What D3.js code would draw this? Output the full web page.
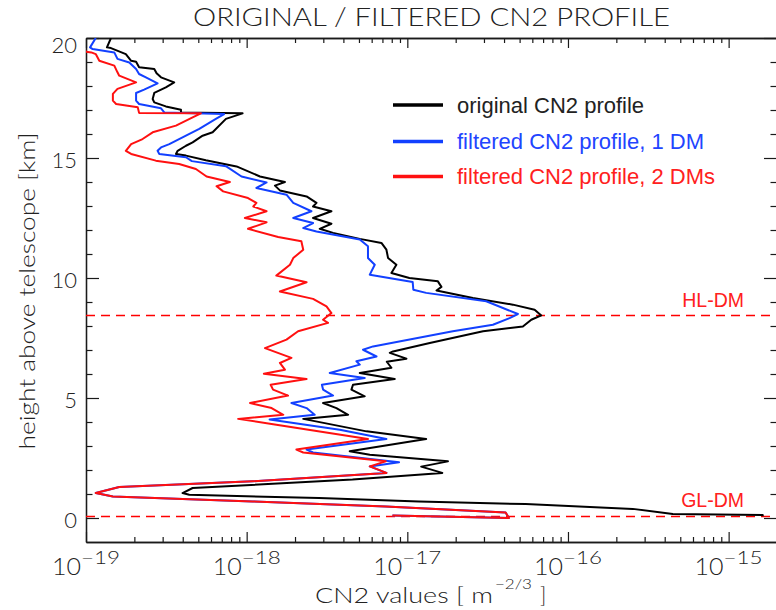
<!DOCTYPE html>
<html>
<head>
<meta charset="utf-8">
<script src="https://cdn.jsdelivr.net/npm/d3@7"></script>
<style>
  body { margin: 0; background: #fff; }
  svg { display: block; }
</style>
</head>
<body>
<svg id="chart" width="776" height="610"></svg>
<script>
// Original CN2 profile: height above telescope [km] and CN2 value [m^-2/3]
const heightOriginal = [20.0,19.61,19.58,19.33,19.05,19.01,18.78,18.71,18.53,18.36,
  18.15,17.94,17.71,17.46,17.32,17.15,17.01,16.90,16.86,16.63,
  16.07,15.93,15.65,15.51,15.30,15.17,15.10,14.91,14.65,14.23,
  14.00,13.85,13.65,13.40,13.13,12.98,12.78,12.50,12.26,12.05,
  11.88,11.63,11.46,11.18,10.83,10.55,10.21,10.00,9.86,9.63,
  9.48,9.17,8.89,8.68,8.44,8.26,7.98,7.78,7.29,6.94,
  6.88,6.64,6.51,6.26,6.04,5.79,5.55,5.35,5.07,4.79,
  4.58,4.30,4.13,3.61,3.29,2.78,2.64,2.36,2.14,1.88,
  1.60,1.25,1.04,0.97,0.83,0.69,0.58,0.38,0.17,0.12,0.07];
const cn2Original = [1.43e-19,1.35e-19,1.43e-19,1.77e-19,1.91e-19,2.05e-19,2.14e-19,2.66e-19,2.75e-19,2.93e-19,
  3.54e-19,3.14e-19,2.66e-19,2.60e-19,2.66e-19,3.14e-19,3.90e-19,3.90e-19,9.43e-19,7.43e-19,
  6.14e-19,5.32e-19,4.61e-19,4.19e-19,3.72e-19,3.63e-19,4.19e-19,5.57e-19,8.65e-19,1.21e-18,
  1.73e-18,1.50e-18,1.61e-18,2.36e-18,2.72e-18,2.59e-18,3.37e-18,2.59e-18,3.37e-18,2.85e-18,
  3.45e-18,5.06e-18,6.90e-18,7.41e-18,7.59e-18,8.55e-18,7.96e-18,1.03e-17,1.55e-17,1.63e-17,
  1.52e-17,2.56e-17,4.54e-17,6.20e-17,6.82e-17,5.91e-17,5.24e-17,2.96e-17,1.38e-17,8.15e-18,
  7.78e-18,9.87e-18,7.45e-18,7.96e-18,5.06e-18,8.35e-18,4.59e-18,4.49e-18,5.43e-18,2.99e-18,
  3.62e-18,4.28e-18,2.25e-18,5.57e-18,1.31e-17,4.38e-18,5.84e-18,1.79e-17,1.22e-17,1.65e-17,
  4.56e-18,4.61e-19,3.99e-19,4.39e-19,2.82e-18,1.18e-17,5.45e-17,2.53e-16,4.49e-16,1.63e-15,1.63e-15];

// Filtered profile, one deformable mirror
const heightFiltered1 = [20.0,19.61,19.54,19.40,19.13,18.98,18.71,18.50,18.36,18.11,
  17.85,17.71,17.39,17.25,17.07,16.90,16.83,16.63,16.21,15.93,
  15.58,15.44,15.30,15.17,15.03,14.87,14.66,14.23,13.98,13.75,
  13.47,13.13,12.78,12.50,12.29,12.08,11.94,11.60,11.32,10.83,
  10.55,10.14,9.83,9.51,9.38,9.03,8.50,8.33,8.05,7.78,
  7.15,7.01,6.73,6.53,6.39,6.04,5.83,5.55,5.35,5.10,
  4.79,4.58,4.30,4.10,3.68,3.29,2.85,2.73,2.32,
  2.15,1.88,1.53,1.29,1.04,0.90,0.69,0.48,0.23,0.00,0.10];
const cn2Filtered1 = [1.15e-19,1.06e-19,1.10e-19,1.50e-19,1.57e-19,1.86e-19,2.05e-19,2.14e-19,2.36e-19,2.79e-19,
  2.30e-19,2.05e-19,2.05e-19,2.14e-19,2.93e-19,3.07e-19,7.24e-19,6.43e-19,5.07e-19,4.19e-19,
  3.30e-19,2.93e-19,2.79e-19,2.86e-19,4.19e-19,4.56e-19,7.43e-19,9.29e-19,1.33e-18,1.15e-18,
  1.77e-18,1.95e-18,2.53e-18,1.95e-18,2.59e-18,2.25e-18,2.72e-18,5.06e-18,5.69e-18,5.69e-18,
  6.27e-18,5.84e-18,1.08e-17,1.09e-17,1.31e-17,3.10e-17,4.88e-17,4.33e-17,3.41e-17,1.92e-17,
  6.12e-18,5.30e-18,6.43e-18,4.82e-18,5.06e-18,3.29e-18,5.43e-18,2.94e-18,2.99e-18,3.45e-18,
  1.90e-18,2.36e-18,2.65e-18,1.39e-18,3.80e-18,7.41e-18,2.36e-18,2.59e-18,8.88e-18,
  5.84e-18,7.41e-18,1.09e-18,1.61e-19,1.15e-19,1.47e-19,1.09e-18,7.34e-18,4.09e-17,4.29e-17,8.08e-18];

// Filtered profile, two deformable mirrors
const heightFiltered2 = [19.93,19.43,19.40,19.33,19.05,18.85,18.57,18.43,18.15,17.88,
  17.67,17.39,17.25,17.11,16.88,16.86,16.69,16.35,16.07,15.79,
  15.58,15.30,15.17,14.89,14.75,14.54,14.23,14.00,13.82,13.61,
  13.33,13.13,12.98,12.78,12.50,12.32,12.05,11.71,11.53,11.18,
  10.83,10.55,10.10,9.82,9.44,9.13,8.82,8.54,8.26,8.13,
  7.78,7.43,7.08,6.67,6.46,6.18,6.01,5.79,5.55,5.35,
  5.10,4.79,4.58,4.30,4.13,3.89,3.29,2.85,2.73,2.36,
  2.15,1.88,1.53,1.29,1.04,0.90,0.69,0.48,0.23,0.00,0.10];
const cn2Filtered2 = [0.92e-19,1.0e-19,1.08e-19,1.15e-19,1.21e-19,1.50e-19,1.57e-19,1.61e-19,2.05e-19,1.57e-19,
  1.47e-19,1.47e-19,1.54e-19,2.10e-19,2.14e-19,5.19e-19,4.61e-19,3.63e-19,2.60e-19,2.25e-19,
  1.91e-19,1.77e-19,1.91e-19,2.72e-19,3.80e-19,4.83e-19,5.63e-19,7.86e-19,6.50e-19,7.14e-19,
  1.02e-18,1.15e-18,1.10e-18,1.33e-18,9.75e-19,1.33e-18,1.02e-18,1.57e-18,2.19e-18,2.25e-18,
  1.95e-18,1.86e-18,1.53e-18,2.36e-18,1.61e-18,2.59e-18,3.14e-18,3.37e-18,2.99e-18,3.21e-18,
  2.09e-18,1.77e-18,1.30e-18,1.90e-18,1.61e-18,1.73e-18,1.28e-18,2.36e-18,1.41e-18,1.46e-18,
  1.81e-18,1.05e-18,1.43e-18,1.69e-18,8.85e-19,1.53e-18,5.69e-18,2.04e-18,2.25e-18,7.34e-18,
  5.84e-18,7.41e-18,1.09e-18,1.61e-19,1.15e-19,1.47e-19,1.09e-18,7.34e-18,4.09e-17,4.29e-17,8.08e-18];

const seriesNames = ["original CN2 profile", "filtered CN2 profile, 1 DM", "filtered CN2 profile, 2 DMs"];
const seriesColors = ["#000000", "#1240ff", "#ff1010"];
const legendTextColors = ["#222222", "#2244ff", "#ff2020"];

// Conjugation heights of the deformable mirrors [km]
const dmNames = ["HL-DM", "GL-DM"];
const dmHeights = [8.44, 0.1];

const yTickValues = [0, 5, 10, 15, 20];
const xTickExponents = [-19, -18, -17, -16, -15];

const hershey = "Lato, 'DejaVu Sans', sans-serif";
const helv = "'Liberation Sans', Arial, sans-serif";

const svg = d3.select("#chart");
const M = { left: 86, right: 777, top: 38, bottom: 542 };

const x = d3.scaleLog().domain([1e-19, 2e-15]).range([M.left, M.right]);
const y = d3.scaleLinear().domain([-1, 20]).range([M.bottom, M.top]);

svg.append("defs").append("clipPath").attr("id", "plot-clip")
  .append("rect")
  .attr("x", M.left).attr("y", M.top)
  .attr("width", M.right - M.left).attr("height", M.bottom - M.top);

// Decade and minor tick positions on the log axis
const decades = xTickExponents.map(e => Math.pow(10, e));
const xMinor = [];
for (const d of decades) {
  for (let m = 2; m <= 9; m++) {
    const v = m * d;
    if (v <= x.domain()[1] * 1.0001) xMinor.push(v);
  }
}
const yMinor = d3.range(1, 20).filter(v => v % 5 !== 0);

function styleAxis(g) {
  g.selectAll("path.domain").attr("stroke", "#1a1a1a").attr("stroke-width", 1.3);
  g.selectAll(".tick line").attr("stroke", "#1a1a1a").attr("stroke-width", 1.2);
}

// bottom axis
svg.append("g").attr("transform", `translate(0,${M.bottom})`)
  .call(d3.axisBottom(x).tickValues(decades).tickSize(-10).tickSizeOuter(0).tickFormat(""))
  .call(styleAxis);
svg.append("g").attr("transform", `translate(0,${M.bottom})`)
  .call(d3.axisBottom(x).tickValues(xMinor).tickSize(-5).tickSizeOuter(0).tickFormat(""))
  .call(styleAxis);
// top axis
svg.append("g").attr("transform", `translate(0,${M.top})`)
  .call(d3.axisTop(x).tickValues(decades).tickSize(-10).tickSizeOuter(0).tickFormat(""))
  .call(styleAxis);
svg.append("g").attr("transform", `translate(0,${M.top})`)
  .call(d3.axisTop(x).tickValues(xMinor).tickSize(-5).tickSizeOuter(0).tickFormat(""))
  .call(styleAxis);
// left axis with labels
const leftAxis = svg.append("g").attr("transform", `translate(${M.left},0)`)
  .call(d3.axisLeft(y).tickValues(yTickValues).tickSize(-13).tickSizeOuter(0).tickPadding(9))
  .call(styleAxis);
leftAxis.selectAll(".tick text")
  .attr("font-family", hershey).attr("font-weight", 300)
  .attr("font-size", 22).attr("fill", "#222")
  .attr("dy", d => d === 20 ? "0.68em" : "0.42em");
svg.append("g").attr("transform", `translate(${M.left},0)`)
  .call(d3.axisLeft(y).tickValues(yMinor).tickSize(-6.5).tickSizeOuter(0).tickFormat(""))
  .call(styleAxis);
// right axis
svg.append("g").attr("transform", `translate(${M.right},0)`)
  .call(d3.axisRight(y).tickValues(yTickValues).tickSize(-13).tickSizeOuter(0).tickFormat(""))
  .call(styleAxis);
svg.append("g").attr("transform", `translate(${M.right},0)`)
  .call(d3.axisRight(y).tickValues(yMinor).tickSize(-6.5).tickSizeOuter(0).tickFormat(""))
  .call(styleAxis);

// x tick labels: 10 with a superscript exponent
const xLab = svg.append("g").attr("font-family", hershey).attr("font-weight", 300).attr("fill", "#222");
xTickExponents.forEach(e => {
  const px = x(Math.pow(10, e));
  xLab.append("text").attr("x", px - 5).attr("y", 575)
    .attr("text-anchor", "end").attr("font-size", 23)
    .attr("textLength", 29).attr("lengthAdjust", "spacingAndGlyphs")
    .text("10");
  xLab.append("text").attr("x", px - 5).attr("y", 564)
    .attr("text-anchor", "start").attr("font-size", 18)
    .attr("textLength", 39).attr("lengthAdjust", "spacingAndGlyphs")
    .text("\u2212" + Math.abs(e));
});

// axis titles
const xTitle = svg.append("g").attr("font-family", hershey).attr("font-weight", 300).attr("fill", "#222");
xTitle.append("text").attr("x", 315).attr("y", 603).attr("font-size", 21)
  .attr("textLength", 178).attr("lengthAdjust", "spacingAndGlyphs").text("CN2 values [ m");
xTitle.append("text").attr("x", 495).attr("y", 589).attr("font-size", 14)
  .attr("textLength", 37).attr("lengthAdjust", "spacingAndGlyphs").text("\u22122/3");
xTitle.append("text").attr("x", 540).attr("y", 603).attr("font-size", 21).text("]");

svg.append("text")
  .attr("transform", "translate(35,291) rotate(-90)")
  .attr("text-anchor", "middle")
  .attr("font-family", hershey).attr("font-weight", 300).attr("font-size", 21).attr("fill", "#222")
  .attr("textLength", 317).attr("lengthAdjust", "spacingAndGlyphs")
  .text("height above telescope [km]");

// title
svg.append("text").attr("x", 193).attr("y", 26)
  .attr("font-family", hershey).attr("font-weight", 300).attr("font-size", 25).attr("fill", "#222")
  .attr("textLength", 477).attr("lengthAdjust", "spacingAndGlyphs")
  .text("ORIGINAL / FILTERED CN2 PROFILE");

// deformable mirror conjugation heights
const dm = svg.append("g");
dmHeights.forEach((h, i) => {
  const py = Math.round(y(h)) + 0.5;
  dm.append("line")
    .attr("x1", M.left).attr("x2", M.right)
    .attr("y1", py).attr("y2", py)
    .attr("stroke", "#ff0000").attr("stroke-width", 1.3)
    .attr("stroke-dasharray", "9,6");
  dm.append("text")
    .attr("x", 744).attr("y", y(h) - 8.5)
    .attr("text-anchor", "end")
    .attr("font-family", helv).attr("font-size", 19.5).attr("fill", "#ff2020")
    .text(dmNames[i]);
});

// profiles
const profiles = [
  { h: heightOriginal, v: cn2Original },
  { h: heightFiltered1, v: cn2Filtered1 },
  { h: heightFiltered2, v: cn2Filtered2 }
];
const line = d3.line().x(d => x(d[1])).y(d => y(d[0]));
const plot = svg.append("g").attr("clip-path", "url(#plot-clip)");
profiles.forEach((p, i) => {
  plot.append("path")
    .datum(p.h.map((h, k) => [h, p.v[k]]))
    .attr("d", line)
    .attr("fill", "none")
    .attr("stroke", seriesColors[i])
    .attr("stroke-width", 2)
    .attr("stroke-linejoin", "round");
});

// legend
const legendY = [105, 141.5, 176.5];
const legend = svg.append("g");
seriesNames.forEach((name, i) => {
  legend.append("line")
    .attr("x1", 393).attr("x2", 443)
    .attr("y1", legendY[i]).attr("y2", legendY[i])
    .attr("stroke", seriesColors[i]).attr("stroke-width", 3.5);
  legend.append("text")
    .attr("x", 457).attr("y", legendY[i] + 7.5)
    .attr("font-family", helv).attr("font-size", 22)
    .attr("fill", legendTextColors[i])
    .text(name);
});
</script>
</body>
</html>
